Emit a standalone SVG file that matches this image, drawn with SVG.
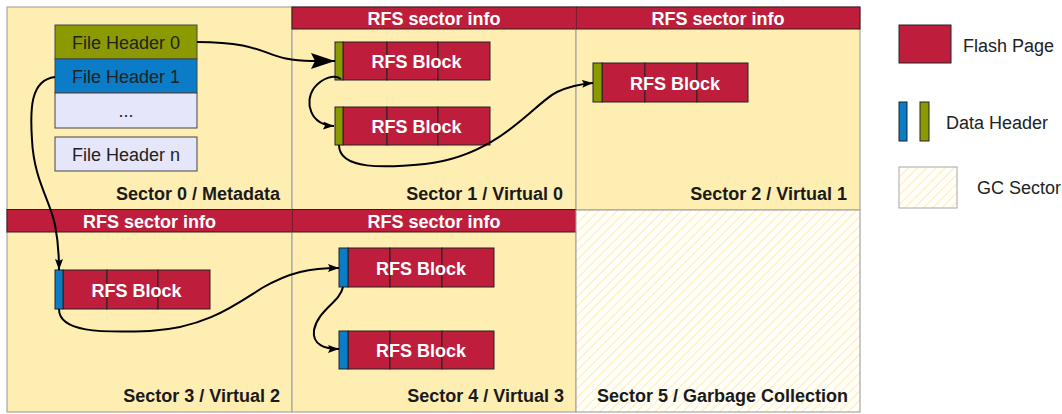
<svg xmlns="http://www.w3.org/2000/svg" width="1062" height="414" viewBox="0 0 1062 414">
<style>
.sec{fill:#FFEEB2;stroke:#A6A6A6;stroke-width:1.2}
.bar{fill:#BE1E3C;stroke:#3a1a1a;stroke-width:1}
.page{fill:#BE1E3C;stroke:#222;stroke-width:1}
.gh{fill:#8A9A00;stroke:#222;stroke-width:1}
.bh{fill:#0A7CC8;stroke:#222;stroke-width:1}
.fh{stroke:#444;stroke-width:1}
.t{font-family:"Liberation Sans",Arial,sans-serif;font-size:18px}
.lbl{font-family:"Liberation Sans",Arial,sans-serif;font-size:18px;font-weight:bold;fill:#1a1a1a;text-anchor:end}
.wt{font-family:"Liberation Sans",Arial,sans-serif;font-size:18px;font-weight:bold;fill:#fff;text-anchor:middle}
.dk{fill:#222;text-anchor:middle}
.con{fill:none;stroke:#000;stroke-width:2}
</style>
<defs>
<pattern id="hatch" patternUnits="userSpaceOnUse" width="6.5" height="6.5" patternTransform="rotate(45)">
<line x1="0" y1="0" x2="0" y2="6.5" stroke="#FFE6A0" stroke-width="1.5"/>
</pattern>
<marker id="big" markerUnits="userSpaceOnUse" viewBox="0 0 24 16" markerWidth="24" markerHeight="16" refX="24" refY="8" orient="auto">
<path d="M0,0 L24,8 L0,16 L4,8 Z" fill="#000"/>
</marker>
<marker id="sm" markerUnits="userSpaceOnUse" viewBox="0 0 11 8" markerWidth="11" markerHeight="8" refX="11" refY="4" orient="auto">
<path d="M0,0 L11,4 L0,8 L2,4 Z" fill="#000"/>
</marker>
</defs>
<rect width="1062" height="414" fill="#fff"/>

<g id="sector0">
<rect class="sec" x="7" y="7" width="285" height="203"/>
<text class="lbl" x="280" y="200">Sector 0 / Metadata</text>
</g>
<g id="fileheader0">
<rect class="fh" x="55" y="25" width="142" height="34" fill="#8A9A00"/>
<text class="t dk" x="126" y="48.5">File Header 0</text>
</g>
<g id="fileheader1">
<rect class="fh" x="55" y="59" width="142" height="34" fill="#0A7CC8"/>
<text class="t dk" x="126" y="82.5">File Header 1</text>
</g>
<g id="fileheaderdots">
<rect class="fh" x="55" y="93" width="142" height="35" fill="#E6E6FA"/>
<text class="t dk" x="126" y="117">...</text>
</g>
<g id="fileheadern">
<rect class="fh" x="55" y="137" width="142" height="34" fill="#E6E6FA"/>
<text class="t dk" x="126" y="160.5">File Header n</text>
</g>

<g id="sector1">
<rect class="sec" x="292" y="7" width="284" height="203"/>
<rect class="bar" x="292" y="7" width="284" height="22"/>
<text class="wt" x="434" y="25">RFS sector info</text>
<text class="lbl" x="563" y="200">Sector 1 / Virtual 0</text>
</g>
<g id="s1block1">
<rect class="page" x="343" y="42" width="44" height="38"/>
<rect class="page" x="387" y="42" width="51" height="38"/>
<rect class="page" x="438" y="42" width="52" height="38"/>
<rect class="gh" x="335" y="42" width="8" height="38"/>
<text class="wt" x="416.5" y="68">RFS Block</text>
</g>
<g id="s1block2">
<rect class="page" x="343" y="107" width="44" height="38"/>
<rect class="page" x="387" y="107" width="51" height="38"/>
<rect class="page" x="438" y="107" width="52" height="38"/>
<rect class="gh" x="335" y="107" width="8" height="38"/>
<text class="wt" x="416.5" y="133">RFS Block</text>
</g>

<g id="sector2">
<rect class="sec" x="576" y="7" width="284" height="203"/>
<rect class="bar" x="576" y="7" width="284" height="22"/>
<text class="wt" x="718" y="25">RFS sector info</text>
<text class="lbl" x="847" y="200">Sector 2 / Virtual 1</text>
</g>
<g id="s2block1">
<rect class="page" x="602" y="63" width="43" height="39"/>
<rect class="page" x="645" y="63" width="52" height="39"/>
<rect class="page" x="697" y="63" width="51" height="39"/>
<rect class="gh" x="593" y="63" width="9" height="39"/>
<text class="wt" x="675" y="89.5">RFS Block</text>
</g>

<g id="sector3">
<rect class="sec" x="7" y="210" width="285" height="202"/>
<rect class="bar" x="7" y="209.5" width="285" height="22.5"/>
<text class="wt" x="149.5" y="227.5">RFS sector info</text>
<text class="lbl" x="280" y="402">Sector 3 / Virtual 2</text>
</g>
<g id="s3block1">
<rect class="page" x="63" y="270" width="44" height="39"/>
<rect class="page" x="107" y="270" width="51" height="39"/>
<rect class="page" x="158" y="270" width="52" height="39"/>
<rect class="bh" x="55" y="270" width="8" height="39"/>
<text class="wt" x="136.5" y="296.5">RFS Block</text>
</g>

<g id="sector4">
<rect class="sec" x="292" y="210" width="284" height="202"/>
<rect class="bar" x="292" y="209.5" width="284" height="22.5"/>
<text class="wt" x="434" y="227.5">RFS sector info</text>
<text class="lbl" x="564" y="402">Sector 4 / Virtual 3</text>
</g>
<g id="s4block1">
<rect class="page" x="348" y="248" width="42" height="39"/>
<rect class="page" x="390" y="248" width="52" height="39"/>
<rect class="page" x="442" y="248" width="52" height="39"/>
<rect class="bh" x="339" y="248" width="9" height="39"/>
<text class="wt" x="421" y="274.5">RFS Block</text>
</g>
<g id="s4block2">
<rect class="page" x="348" y="331" width="42" height="38"/>
<rect class="page" x="390" y="331" width="52" height="38"/>
<rect class="page" x="442" y="331" width="52" height="38"/>
<rect class="bh" x="339" y="331" width="9" height="38"/>
<text class="wt" x="421" y="357">RFS Block</text>
</g>

<g id="sector5">
<rect x="576" y="210" width="284" height="202" fill="#FFFEF8"/>
<rect x="576" y="210" width="284" height="202" fill="url(#hatch)" stroke="#A6A6A6" stroke-width="1.2"/>
<text class="lbl" x="848" y="402">Sector 5 / Garbage Collection</text>
</g>

<g id="connectors">
<path class="con" d="M197,42 C272,42 262,61 312,61 L335,61" marker-end="url(#big)"/>
<path class="con" d="M341,79 C334,74 322,78 314,88 C304,102 310,125 334,126" marker-end="url(#sm)"/>
<path class="con" d="M339,145 C339,170 385,168 425,164 C500,156 535,102 557,92 C570,86 580,84 593,83" marker-end="url(#sm)"/>
<path class="con" d="M55,77 C30,80 30,110 32,140 C34,180 50,200 55,225 C58,240 59,255 59,270" marker-end="url(#sm)"/>
<path class="con" d="M59,309 C59,332 100,333 150,331 C205,328 235,305 262,288 C290,272 310,268 339,268" marker-end="url(#sm)"/>
<path class="con" d="M343,287 C340,302 318,310 314,330 C312,345 325,349 339,349" marker-end="url(#sm)"/>
</g>

<g id="legend-flash">
<rect class="page" x="899" y="25" width="52" height="38"/>
<text class="t" x="963" y="52" fill="#222">Flash Page</text>
</g>
<g id="legend-header">
<rect class="bh" x="899" y="102" width="8" height="39"/>
<rect class="gh" x="920" y="102" width="9" height="39"/>
<text class="t" x="946" y="129" fill="#222">Data Header</text>
</g>
<g id="legend-gc">
<rect x="899" y="167" width="58" height="41" fill="#FFFEF8"/>
<rect x="899" y="167" width="58" height="41" fill="url(#hatch)" stroke="#A6A6A6" stroke-width="1"/>
<text class="t" x="977" y="194" fill="#222">GC Sector</text>
</g>
</svg>
